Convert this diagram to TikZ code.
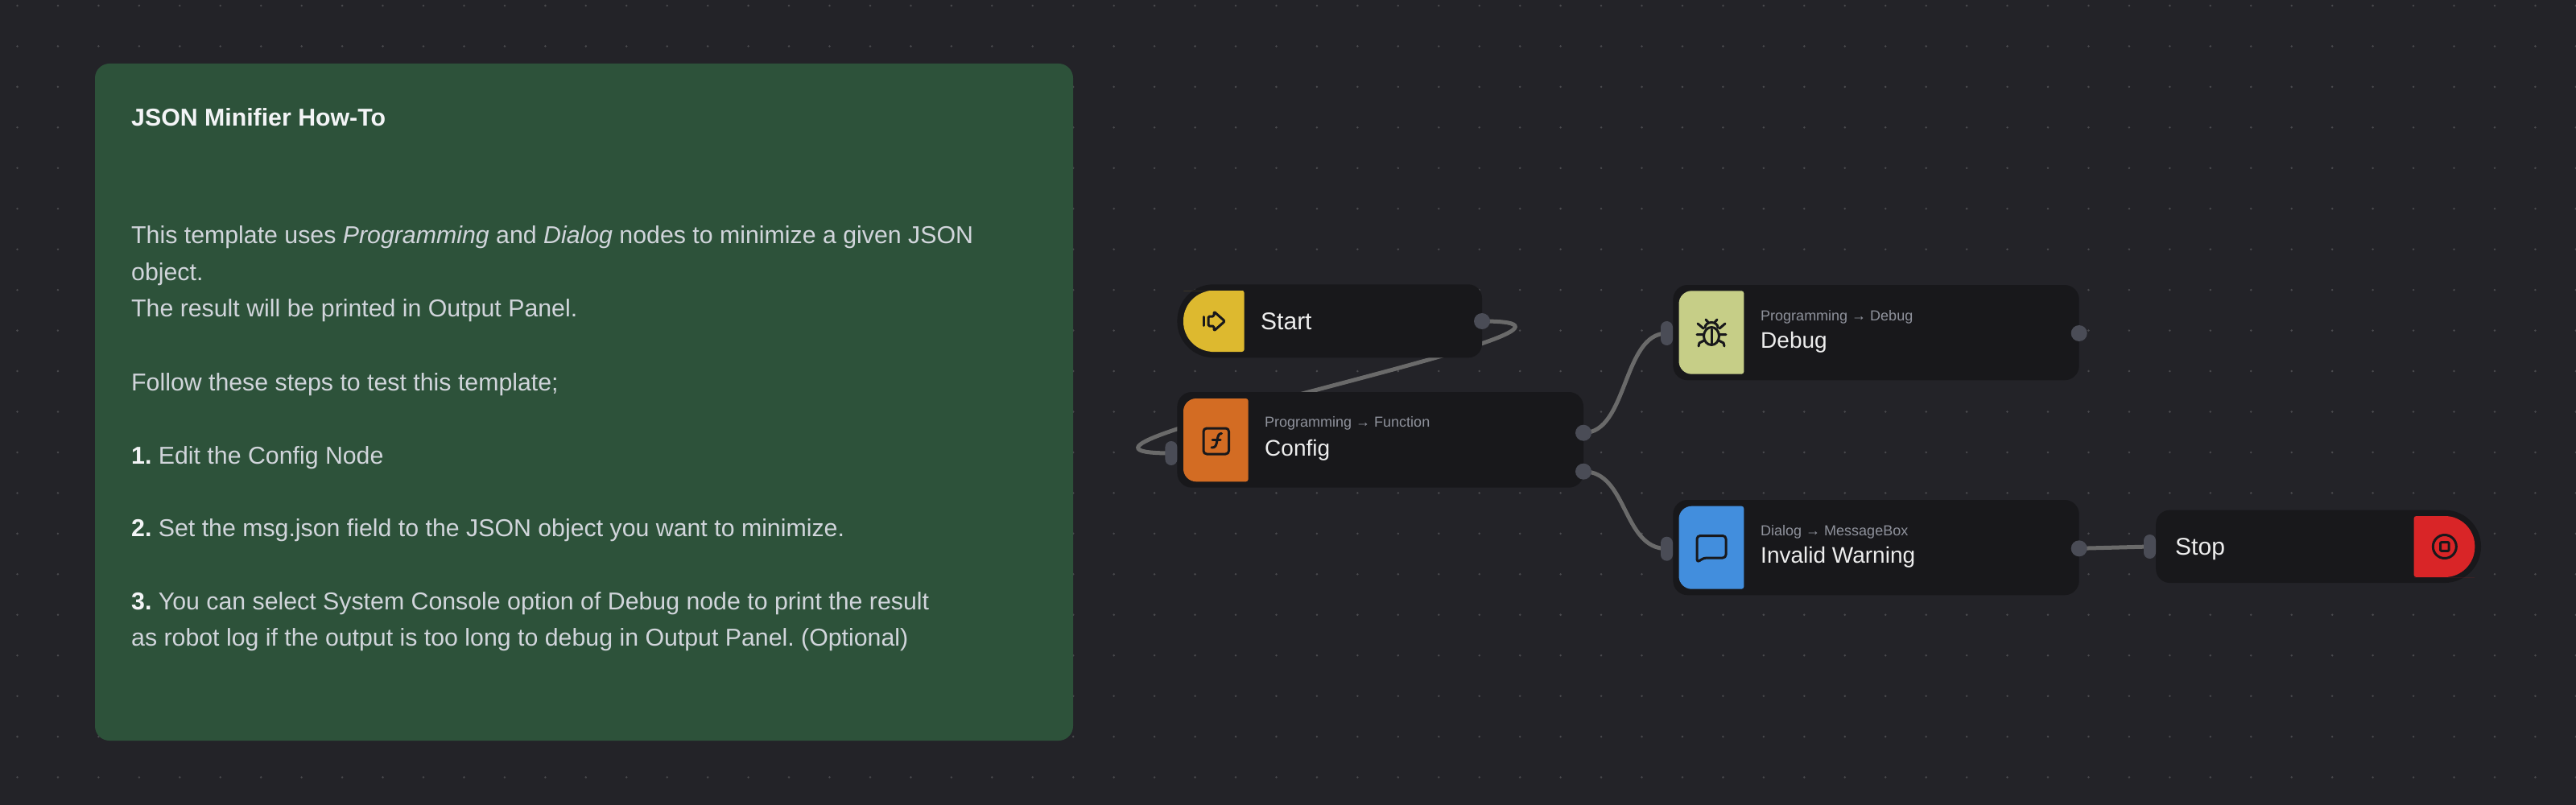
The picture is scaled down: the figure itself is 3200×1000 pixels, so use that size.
\documentclass[tikz,border=0pt]{standalone}
\usepackage{fontspec}
\setmainfont{Liberation Sans}
\usetikzlibrary{positioning,calc,backgrounds}
\frenchspacing

\definecolor{canvas}{HTML}{232328}
\definecolor{griddot}{HTML}{4A4A4E}
\definecolor{notegreen}{HTML}{2D523A}
\definecolor{notegray}{HTML}{D1D5DB}
\definecolor{notebold}{HTML}{F3F4F6}
\definecolor{cardblack}{HTML}{18181B}
\definecolor{portgray}{HTML}{4A4C56}
\definecolor{wiregray}{HTML}{6A6A6A}
\definecolor{subgray}{HTML}{8F929C}
\definecolor{startyellow}{HTML}{DDB92F}
\definecolor{funcorange}{HTML}{D36C23}
\definecolor{debuggreen}{HTML}{C6CE87}
\definecolor{dialogblue}{HTML}{428EDD}
\definecolor{stopred}{HTML}{D92527}

\tikzset{
	cardbox/.style={fill=cardblack, rounded corners=18pt},
	outport/.style={circle, fill=portgray, inner sep=0pt, minimum size=20pt},
	inport/.style={rectangle, fill=portgray, rounded corners=7.5pt, inner sep=0pt, minimum width=15pt, minimum height=30pt},
	wire/.style={draw=wiregray, line width=5pt},
	notetitle/.style={anchor=base west, inner sep=0pt, text=notebold, font=\fontsize{30.3}{38}\selectfont\bfseries},
	notetext/.style={anchor=base west, inner sep=0pt, text=notegray, font=\fontsize{30.3}{38}\selectfont},
	cardname/.style={anchor=base west, inner sep=0pt, text=black!7!white, font=\fontsize{28}{34}\selectfont},
	endname/.style={cardname, font=\fontsize{30}{36}\selectfont},
	cardpath/.style={anchor=base west, inner sep=0pt, text=subgray, font=\fontsize{18}{22}\selectfont},
	glyph/.style={draw=cardblack, line width=3pt, line cap=round, line join=round},
}

\newcommand{\stepnum}[1]{\textcolor{notebold}{\textbf{#1}}}

% x0, y0, x1, y1, left radius, right radius, colour
\newcommand{\capshape}[7]{
	\fill[#7, rounded corners=#6pt] ({(#1+#3)/2},#2) -- (#3,#2) -- (#3,#4) -- ({(#1+#3)/2},#4)
		[rounded corners=#5pt] -- (#1,#4) -- (#1,#2) -- cycle;
}

\begin{document}
\begin{tikzpicture}[x=1pt, y=-1pt]
	\useasboundingbox (0,0) rectangle (3200,1000);
	%\draw[step=50,gray,very thin] (0,0) grid (3200,1000);

	% note on the left
	\fill[notegreen, rounded corners=18pt] (118,79) rectangle (1333,920);
	\node[notetitle] (title) at (163,156.7) {JSON Minifier How-To};
	\node[notetext] (line1) at (163,302.7) {This template uses \textit{Programming} and \textit{Dialog} nodes to minimize a given JSON};
	\node[notetext] (line2) at (163,348) {object.};
	\node[notetext] (line3) at (163,393.7) {The result will be printed in Output Panel.};
	\node[notetext] (line4) at (163,485) {Follow these steps to test this template;};
	\node[notetext] (line5) at (163,576) {\stepnum{1.} Edit the Config Node};
	\node[notetext] (line6) at (163,666) {\stepnum{2.} Set the msg.json field to the JSON object you want to minimize.};
	\node[notetext] (line7) at (163,757) {\stepnum{3.} You can select System Console option of Debug node to print the result};
	\node[notetext] (line8) at (163,802.5) {as robot log if the output is too long to debug in Output Panel. (Optional)};

	% start
	\capshape{1462.4}{353.3}{1841}{444.3}{45}{17}{cardblack}
	\capshape{1470}{361}{1545.7}{437}{37.5}{3}{startyellow}
	\node[endname] (startname) at (1566,409) {Start};
	\node[outport] (startout) at (1841,399) {};
	\draw[glyph, rounded corners=1.5pt] (1501,393) -- (1508,393) -- (1508,387) -- (1521.5,399) -- (1508,411) -- (1508,405) -- (1501,405) -- cycle;
	\draw[glyph] (1495.5,393.5) -- (1495.5,404.5);

	% config
	\fill[cardbox] (1462.4,487) rectangle (1967,605.7);
	\capshape{1470}{495}{1550.6}{598.3}{16}{3}{funcorange}
	\node[cardpath] (configpath) at (1571,530.7) {Programming → Function};
	\node[cardname] (configname) at (1571,566) {Config};
	\node[inport] (configin) at (1454.9,563) {};
	\node[outport] (configa) at (1967,537.7) {};
	\node[outport] (configb) at (1967,585.7) {};
	\draw[glyph, rounded corners=4pt] (1495,532) rectangle (1526.5,564);
	\draw[glyph] (1505,556) .. controls (1510,556.5) and (1511,553) .. (1512,547) .. controls (1513,541) and (1514,538.5) .. (1517.5,538.5);
	\draw[glyph] (1506,546.7) -- (1516,546.7);

	% debug
	\fill[cardbox] (2078.3,354) rectangle (2582.7,472.3);
	\capshape{2085.5}{361.3}{2166.3}{464.7}{16}{3}{debuggreen}
	\node[cardpath] (debugpath) at (2187,398.3) {Programming → Debug};
	\node[cardname] (debugname) at (2187,432) {Debug};
	\node[inport] (debugin) at (2070.5,414) {};
	\node[outport] (debugout) at (2582.7,414) {};
	\draw[glyph] (2126,417.5) ellipse[x radius=9.5, y radius=11];
	\draw[glyph] (2126,409) -- (2126,427);
	\draw[glyph] (2118,407) arc[start angle=180, end angle=0, x radius=8, y radius=-6.5];
	\draw[glyph] (2119,397) -- (2122,400.5) (2133,397) -- (2130,400.5);
	\draw[glyph] (2109,402) -- (2116,408) (2108,415.7) -- (2116,415.7) (2110,430) -- (2111,426) -- (2117,423);
	\draw[glyph] (2143,402) -- (2136,408) (2144,415.7) -- (2136,415.7) (2142,430) -- (2141,426) -- (2135,423);

	% invalid warning
	\fill[cardbox] (2078.3,621) rectangle (2582.7,739.3);
	\capshape{2085.5}{628.7}{2166.3}{731.7}{16}{3}{dialogblue}
	\node[cardpath] (warnpath) at (2187,665) {Dialog → MessageBox};
	\node[cardname] (warnname) at (2187,699) {Invalid Warning};
	\node[inport] (warnin) at (2070.5,681.7) {};
	\node[outport] (warnout) at (2582.7,681.3) {};
	\draw[glyph, rounded corners=4pt] (2108,699) -- (2108,665.5) -- (2144,665.5) -- (2144,693) -- (2116,693) -- cycle;

	% stop
	\capshape{2678.2}{633.7}{3082}{724}{17}{45}{cardblack}
	\capshape{2998.6}{641}{3074.3}{717}{3}{37.5}{stopred}
	\node[endname] (stopname) at (2702,689) {Stop};
	\node[inport] (stopin) at (2670.5,679) {};
	\draw[glyph] (3036.8,679) circle[radius=14.5];
	\draw[glyph, rounded corners=1pt] (3031.5,673.7) rectangle (3042.1,684.3);

	% canvas, dots and wires go under the cards
	\begin{scope}[on background layer]
		\fill[canvas] (0,0) rectangle (3200,1000);
		\foreach \i in {0,...,63}
			\foreach \j in {0,...,19}
				\fill[griddot] ({21.5+50.45*\i},{7+50.45*\j}) circle[radius=1.4pt];
		\draw[wire] (startout.center) .. controls +(235,0) and +(-235,0) .. (configin.center);
		\draw[wire] (configa.center) .. controls +(55,0) and +(-55,0) .. (debugin.center);
		\draw[wire] (configb.center) .. controls +(55,0) and +(-55,0) .. (warnin.center);
		\draw[wire] (warnout.center) -- (stopin.center);
	\end{scope}
\end{tikzpicture}
\end{document}
